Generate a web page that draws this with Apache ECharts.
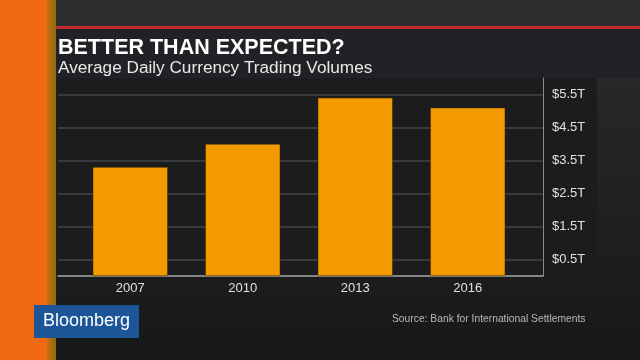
<!DOCTYPE html>
<html>
<head>
<meta charset="utf-8">
<script src="https://cdn.jsdelivr.net/npm/echarts@6/dist/echarts.min.js"></script>
<style>
html,body{margin:0;padding:0;background:#1c1d1f;}
#c{width:640px;height:360px;}
</style>
</head>
<body>
<div id="c"></div>
<script>
const categories = ['2007', '2010', '2013', '2016'];
const volumes = [3.3, 4.0, 5.4, 5.1];
const tickLabels = ['$0.5T', '$1.5T', '$2.5T', '$3.5T', '$4.5T', '$5.5T'];

const chart = echarts.init(document.getElementById('c'), null, {renderer: 'canvas'});

function yLabel(v) {
  const s = '$' + v.toFixed(1) + 'T';
  return tickLabels.indexOf(s) >= 0 ? s : '';
}

const option = {
  backgroundColor: {
    type: 'linear', x: 0, y: 0, x2: 0, y2: 1,
    colorStops: [{offset: 0, color: '#2b2c2e'}, {offset: 0.7, color: '#1d1e20'}, {offset: 1, color: '#161718'}]
  },
  animation: false,
  title: {
    text: 'BETTER THAN EXPECTED?',
    subtext: 'Average Daily Currency Trading Volumes',
    left: 53, top: 32, itemGap: 1,
    textStyle: {color: '#ffffff', fontSize: 21.5, fontWeight: 'bold', fontFamily: 'Liberation Sans'},
    subtextStyle: {color: '#e8e8e8', fontSize: 17.2, fontFamily: 'Liberation Sans'}
  },
  graphic: [
    {type: 'rect', z: -10, shape: {x: 0, y: 0, width: 640, height: 28}, style: {fill: '#2c2d2f'}},
    {type: 'rect', z: -10, shape: {x: 55, y: 29, width: 585, height: 49}, style: {fill: '#212225'}},
    {type: 'rect', z: -10, shape: {x: 55, y: 78, width: 542, height: 210}, style: {fill: '#1b1c1e'}},
    {type: 'rect', z: -9, shape: {x: 55, y: 26, width: 585, height: 3}, style: {fill: '#c22a2a'}},
    {type: 'rect', z: -8, shape: {x: 0, y: 0, width: 47, height: 360}, style: {fill: '#ef6a12'}},
    {type: 'rect', z: -8, shape: {x: 47, y: 0, width: 9, height: 360},
      style: {fill: {type: 'linear', x: 0, y: 0, x2: 1, y2: 0, colorStops: [{offset: 0, color: '#c8700e'}, {offset: 1, color: '#8a6a10'}]}}},
    {type: 'rect', z: 5, shape: {x: 34, y: 305, width: 105, height: 33}, style: {fill: '#1c5699'}},
    {type: 'text', z: 6, x: 43, y: 312, style: {text: 'Bloomberg', fill: '#ffffff', fontSize: 18, fontFamily: 'Liberation Sans'}},
    {type: 'text', z: 6, x: 392, y: 314, style: {text: 'Source: Bank for International Settlements', fill: '#b8b8b8', fontSize: 10.3, fontFamily: 'Liberation Sans'}}
  ],
  grid: [
    {left: 58, right: 97, top: 78, bottom: 84},
    {left: 74, right: 116, top: 78, bottom: 84}
  ],
  xAxis: [
    {gridIndex: 0, type: 'value', min: 0, max: 1, axisLabel: {show: false}, axisTick: {show: false},
      splitLine: {show: false}, axisLine: {show: true, onZero: false, lineStyle: {color: '#a8a8a8', width: 1.5}}},
    {gridIndex: 1, type: 'category', data: categories, axisLine: {show: false}, axisTick: {show: false},
      axisLabel: {color: '#e0e0e0', fontSize: 13, margin: 6, fontFamily: 'Liberation Sans'}}
  ],
  yAxis: [
    {gridIndex: 0, type: 'value', position: 'right', min: 0, max: 6, interval: 0.5,
      axisLine: {show: true, onZero: false, lineStyle: {color: '#8a8a8a', width: 1}}, axisTick: {show: false},
      axisLabel: {color: '#e0e0e0', fontSize: 13, margin: 9, fontFamily: 'Liberation Sans', formatter: yLabel},
      splitLine: {show: true, lineStyle: {color: ['rgba(0,0,0,0)', '#434446'], width: 1.5}}},
    {gridIndex: 1, type: 'value', min: 0, max: 6, show: false, splitLine: {show: false}}
  ],
  series: [{
    type: 'bar', xAxisIndex: 1, yAxisIndex: 1, data: volumes, barWidth: 75,
    itemStyle: {color: '#f39a00', borderColor: '#3a2600', borderWidth: 0.5}
  }]
};
chart.setOption(option);
</script>
</body>
</html>
